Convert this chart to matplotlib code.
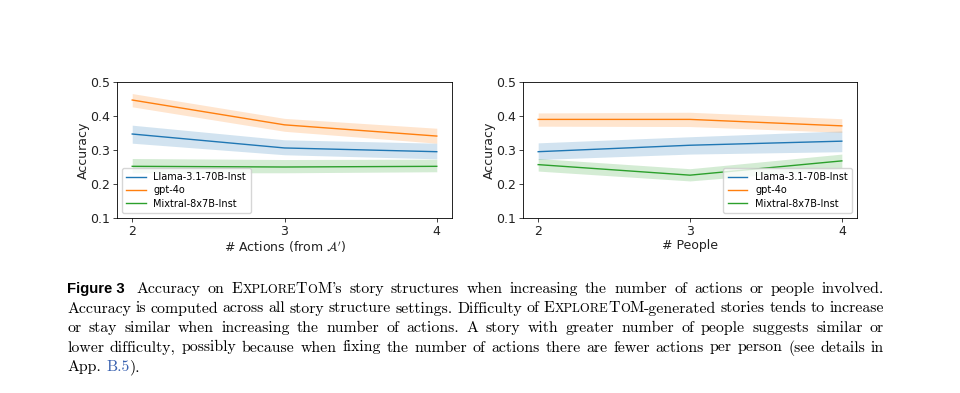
import numpy as np
import matplotlib.pyplot as plt
from matplotlib.font_manager import FontProperties

# x values
n_actions = [2, 3, 4]
n_people = [2, 3, 4]

model_names = ["Llama-3.1-70B-Inst", "gpt-4o", "Mixtral-8x7B-Inst"]
model_colors = ["#1f77b4", "#ff7f0e", "#2ca02c"]

# accuracy vs number of actions (mean, lower, upper of confidence band)
llama_act = [0.347, 0.306, 0.295]
llama_act_lo = [0.320, 0.286, 0.274]
llama_act_hi = [0.373, 0.330, 0.320]
gpt_act = [0.447, 0.374, 0.341]
gpt_act_lo = [0.427, 0.355, 0.320]
gpt_act_hi = [0.466, 0.393, 0.364]
mix_act = [0.252, 0.250, 0.252]
mix_act_lo = [0.233, 0.233, 0.236]
mix_act_hi = [0.275, 0.272, 0.273]

# accuracy vs number of people
llama_ppl = [0.295, 0.314, 0.326]
llama_ppl_lo = [0.272, 0.288, 0.295]
llama_ppl_hi = [0.321, 0.339, 0.356]
gpt_ppl = [0.390, 0.390, 0.371]
gpt_ppl_lo = [0.370, 0.369, 0.352]
gpt_ppl_hi = [0.409, 0.411, 0.392]
mix_ppl = [0.257, 0.226, 0.268]
mix_ppl_lo = [0.238, 0.209, 0.246]
mix_ppl_hi = [0.275, 0.245, 0.288]

W, H = 960, 393
fig = plt.figure(figsize=(W / 100, H / 100), dpi=100)


def px_axes(x0, y0, x1, y1):
    return fig.add_axes([x0 / W, 1 - y1 / H, (x1 - x0) / W, (y1 - y0) / H])


def draw_panel(ax, xs, series, xlabel, legend_loc):
    for (m, lo, hi), name, c in zip(series, model_names, model_colors):
        ax.plot(xs, m, color=c, lw=1.0, label=name)
        ax.fill_between(xs, lo, hi, color=c, alpha=0.2, lw=0)
    ax.set_ylim(0.1, 0.5)
    ax.set_yticks([0.1, 0.2, 0.3, 0.4, 0.5])
    ax.set_xticks(xs)
    ax.tick_params(labelsize=9, length=3, width=0.6, pad=2, colors="#222222")
    ax.set_ylabel("Accuracy", fontsize=9, labelpad=0, color="#222222")
    ax.set_xlabel(xlabel, fontsize=9, labelpad=1, color="#222222")
    for s in ax.spines.values():
        s.set_linewidth(0.6)
    ax.legend(loc=legend_loc, fontsize=7, handlelength=2.0, borderpad=0.45,
              labelspacing=0.35, framealpha=0.8)


ax1 = px_axes(117, 82, 452, 218)
draw_panel(ax1, n_actions,
           [(llama_act, llama_act_lo, llama_act_hi),
            (gpt_act, gpt_act_lo, gpt_act_hi),
            (mix_act, mix_act_lo, mix_act_hi)],
           r"# Actions (from $\mathcal{A}'$)", "lower left")

ax2 = px_axes(523, 82, 857, 218)
draw_panel(ax2, n_people,
           [(llama_ppl, llama_ppl_lo, llama_ppl_hi),
            (gpt_ppl, gpt_ppl_lo, gpt_ppl_hi),
            (mix_ppl, mix_ppl_lo, mix_ppl_hi)],
           "# People", "lower right")

# ---- caption, laid out word by word and justified like LaTeX ----
SERIF = ["cmr10", "DejaVu Serif"]
LINK = "#3a62b0"
BOLD_FS = 10.7
x_left, x_right = 67, 884
baselines = [293, 312.5, 332, 351.5, 371]

# word lists; "SC:" marks the ExploreToM small-caps name
line_words = [
    ["Accuracy", "on", "SC:'s", "story", "structures", "when", "increasing", "the",
     "number", "of", "actions", "or", "people", "involved."],
    "Accuracy is computed across all story structure settings. Difficulty of".split()
    + ["SC:-generated"] + "stories tends to increase".split(),
    "or stay similar when increasing the number of actions. A story with greater number of people suggests similar or".split(),
    "lower difficulty, possibly because when fixing the number of actions there are fewer actions per person (see details in".split(),
    ["App.", "LINK:B.5", ")."],
]

fig.canvas.draw()
renderer = fig.canvas.get_renderer()
_adv_cache = {}


def advance(s, size):
    # pen advance of s in pixels: ink("|s|") - ink("||")
    key = (s, size)
    if key not in _adv_cache:
        fp = FontProperties(family=SERIF, size=size)
        w1 = renderer.get_text_width_height_descent("|" + s + "|", fp, ismath=False)[0]
        w0 = renderer.get_text_width_height_descent("||", fp, ismath=False)[0]
        _adv_cache[key] = w1 - w0
    return _adv_cache[key]


def word_runs(w, fs):
    sc = fs * 0.8
    if w.startswith("SC:"):
        return [("E", fs, "k"), ("XPLORE", sc, "k"), ("T", fs, "k"), ("O", sc, "k"),
                ("M", fs, "k"), (w[3:], fs, "k")]
    if w.startswith("LINK:"):
        return [(w[5:], fs, LINK)]
    return [(w, fs, "k")]


def word_width(w, fs):
    return sum(advance(t, s) for t, s, _ in word_runs(w, fs))


def natural_width(words, fs, space_em):
    return sum(word_width(w, fs) for w in words) + (len(words) - 1) * fs * 100 / 72 * space_em


# pick font size so the fullest line still fits with slightly tight spaces
fs0 = 11.0
FS = min(fs0 * (x_right - x_left) / natural_width(line_words[k], fs0, 0.3) for k in (1, 2, 3))
space_w = FS * 100 / 72 * 0.333

for li, (words, yb) in enumerate(zip(line_words, baselines)):
    x_start = x_left
    if li == 0:
        fb = fig.text(x_left / W, 1 - yb / H, "Figure 3", fontsize=BOLD_FS, fontweight="bold",
                      family=["Liberation Sans", "DejaVu Sans"], va="baseline")
        x_start = x_left + fb.get_window_extent(renderer).width + 12
    natural = sum(word_width(w, FS) for w in words)
    last = li == len(line_words) - 1
    gap = space_w if last else (x_right - x_start - natural) / (len(words) - 1)
    x = x_start
    for i, w in enumerate(words):
        for txt, size, col in word_runs(w, FS):
            fig.text(x / W, 1 - yb / H, txt, fontsize=size, family=SERIF, color=col,
                     va="baseline")
            x += advance(txt, size)
        # last line: "App. B.5)." only has a space after "App."
        if not last or i == 0:
            x += gap

fig.savefig("out.png", dpi=100)
